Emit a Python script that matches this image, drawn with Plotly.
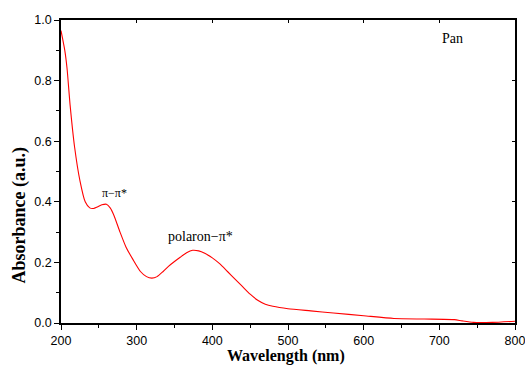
import plotly.graph_objects as go

wavelength = [200, 205, 208, 212, 218, 225, 232, 238, 243, 248, 254, 260, 265, 270, 278, 286, 295, 305, 313, 320,
              327, 335, 342, 350, 358, 366, 374, 382, 390, 400, 410, 420, 430, 440, 450, 460, 470, 480, 500, 530,
              560, 600, 640, 680, 720, 730, 745, 770, 800]
absorbance = [0.965, 0.90, 0.84, 0.72, 0.58, 0.47, 0.40, 0.38, 0.378, 0.383, 0.39, 0.392, 0.38, 0.355, 0.30, 0.25,
              0.21, 0.17, 0.153, 0.148, 0.153, 0.17, 0.187, 0.203, 0.218, 0.232, 0.24, 0.238, 0.23, 0.215, 0.195,
              0.17, 0.145, 0.12, 0.095, 0.075, 0.062, 0.055, 0.047, 0.04, 0.033, 0.024, 0.015, 0.013, 0.011, 0.007,
              0.002, 0.002, 0.006]

annotations_text = ["π−π*", "polaron−π*", "Pan"]
annotations_x = [271, 384, 718]
annotations_y = [0.43, 0.287, 0.94]
annotations_size = [12, 14, 14]

x_title = "Wavelength (nm)"
y_title = "Absorbance (a.u.)"

fig = go.Figure()
fig.add_trace(go.Scatter(x=wavelength, y=absorbance, mode="lines",
                         line=dict(color="#ff0000", width=1.1, shape="spline", smoothing=0.6),
                         showlegend=False))

serif = "Liberation Serif"
for t, x, y, s in zip(annotations_text, annotations_x, annotations_y, annotations_size):
    fig.add_annotation(x=x, y=y, text=t, showarrow=False,
                       font=dict(family=serif, size=s, color="black"))

fig.add_annotation(xref="paper", yref="paper", x=0.4956, y=-0.109, xanchor="center", yanchor="middle",
                   text="<b>" + x_title + "</b>",
                   showarrow=False, font=dict(family=serif, size=16, color="black"))
fig.add_annotation(xref="paper", yref="paper", x=-0.0925, y=0.355, xanchor="center", yanchor="middle",
                   text="<b>" + y_title + "</b>",
                   showarrow=False, textangle=-90, font=dict(family=serif, size=18, color="black"))

tickfont = dict(family="Liberation Sans", size=12.5, color="black")
fig.update_layout(
    width=525, height=369,
    margin=dict(l=61, r=10, t=20, b=46),
    paper_bgcolor="white", plot_bgcolor="white",
    xaxis=dict(range=[200, 800], tickvals=[200, 300, 400, 500, 600, 700, 800],
               ticks="outside", ticklen=5, tickwidth=1.2, tickcolor="black",
               minor=dict(tickvals=[250, 350, 450, 550, 650, 750], ticks="outside", ticklen=3, tickcolor="black"),
               showline=True, linecolor="black", linewidth=1.5, mirror=True, automargin=False,
               ticklabeloverflow="allow",
               showgrid=False, zeroline=False, tickfont=tickfont),
    yaxis=dict(range=[0, 1.0], tickvals=[0, 0.2, 0.4, 0.6, 0.8, 1.0], tickformat=".1f",
               ticks="outside", ticklen=5, tickwidth=1.2, tickcolor="black",
               minor=dict(tickvals=[0.1, 0.3, 0.5, 0.7, 0.9], ticks="outside", ticklen=3, tickcolor="black"),
               showline=True, linecolor="black", linewidth=1.5, mirror=True, automargin=False,
               ticklabeloverflow="allow",
               showgrid=False, zeroline=False, tickfont=tickfont),
    xaxis2=dict(range=[200, 800], overlaying="x", side="top", tickvals=[300, 400, 500, 600, 700],
                ticks="inside", ticklen=3, tickcolor="black", showticklabels=False, showgrid=False,
                zeroline=False, automargin=False),
    yaxis2=dict(range=[0, 1.0], overlaying="y", side="right", tickvals=[0.2, 0.4, 0.6, 0.8],
                ticks="inside", ticklen=3, tickcolor="black", showticklabels=False, showgrid=False,
                zeroline=False, automargin=False),
)
fig.add_trace(go.Scatter(x=[None], y=[None], xaxis="x2", yaxis="y2", showlegend=False, hoverinfo="skip"))

fig.write_html("out.html")
